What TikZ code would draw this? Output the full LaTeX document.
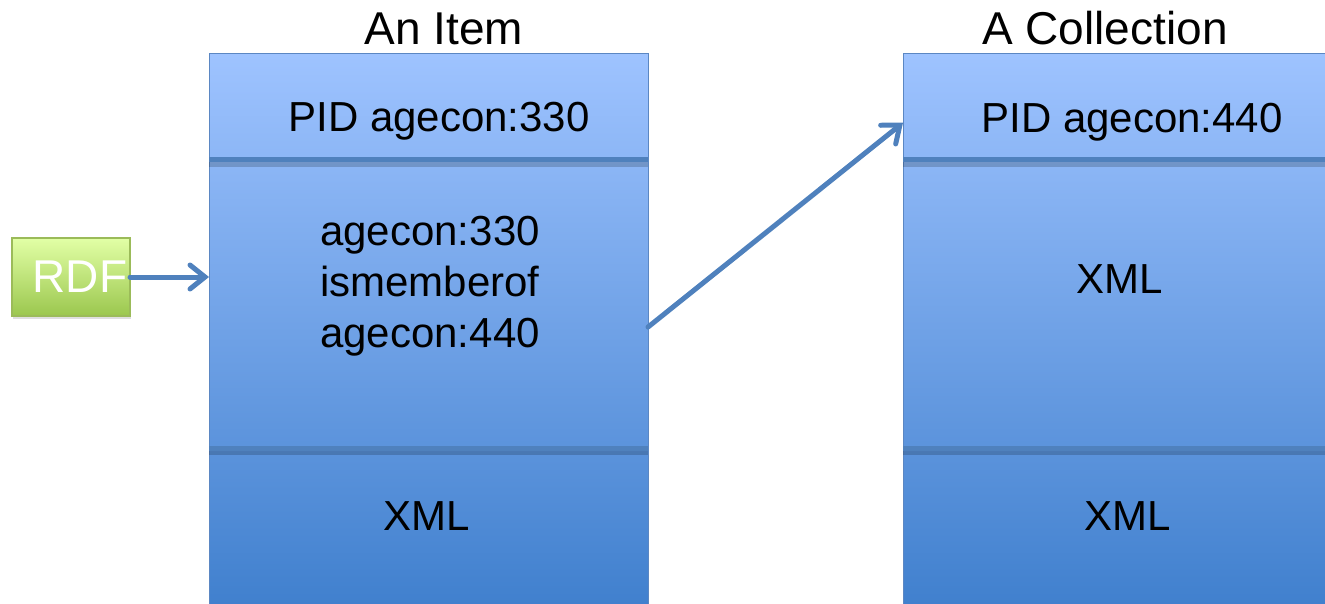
\documentclass[tikz,border=0pt]{standalone}
\usepackage{fontspec}
\setmainfont{Liberation Sans}
\usepackage{xcolor}
\usetikzlibrary{
    arrows.meta,
    shapes,
    positioning,
    shadows,
    calc
}
\definecolor{boxTop}{HTML}{9EC3FF}
\definecolor{boxMid}{HTML}{80ABEE}
\definecolor{boxBot}{HTML}{3F7FCD}
\definecolor{boxEdge}{HTML}{5B87C3}
\definecolor{linkBlue}{HTML}{4F81BD}
\definecolor{rdfTop}{HTML}{E2FFA6}
\definecolor{rdfBot}{HTML}{9BC74E}
\definecolor{rdfEdge}{HTML}{9BBB59}
\tikzset{%
    >={Straight Barb[length=15pt,width=24pt,line cap=round]},
    % Specifications for style of nodes:
    plain/.style = {inner sep=0pt, outer sep=0pt},
    column/.style = {
        plain, rectangle, draw=boxEdge, line width=1pt,
        top color=boxTop, middle color=boxMid, bottom color=boxBot,
        minimum height=560pt, anchor=north west
    },
    section/.style = {plain, rectangle},
    divider/.style = {
        draw=linkBlue, line width=5pt,
        preaction={draw=black, opacity=.18, line width=6pt,
                   transform canvas={yshift=-4pt}}
    },
    heading/.style = {plain, anchor=base, font=\fontsize{46}{55}\selectfont},
    txt/.style = {plain, align=center, font=\fontsize{42}{51}\selectfont},
    rdfbox/.style = {
        plain, rectangle, draw=rdfEdge, line width=1.5pt,
        top color=rdfTop, bottom color=rdfBot,
        minimum width=118pt, minimum height=78pt,
        text=white, font=\fontsize{46}{55}\selectfont,
        drop shadow={opacity=.25, shadow xshift=1pt, shadow yshift=-3pt}
    },
    link/.style = {->, draw=linkBlue, line width=5pt, line cap=round}
}
\begin{document}
\begin{tikzpicture}[x=1pt, y=-1pt]
\useasboundingbox (0,0) rectangle (1325,604);
% Columns and their sections
\node (item)     [column, minimum width=439pt] at (209,54) {};
\node (itemtop)  [section, minimum width=439pt, minimum height=106pt, below right=0pt of item.north west] {};
\node (itemmid)  [section, minimum width=439pt, minimum height=288pt, below=0pt of itemtop] {};
\node (itembot)  [section, minimum width=439pt, minimum height=166pt, below=0pt of itemmid] {};
\node (coll)     [column, minimum width=450pt] at (903,54) {};
\node (colltop)  [section, minimum width=450pt, minimum height=106pt, below right=0pt of coll.north west] {};
\node (collmid)  [section, minimum width=450pt, minimum height=288pt, below=0pt of colltop] {};
\node (collbot)  [section, minimum width=450pt, minimum height=166pt, below=0pt of collmid] {};
\draw[divider] (itemtop.south west) -- (itemtop.south east);
\draw[divider] (itemmid.south west) -- (itemmid.south east);
\draw[divider] (colltop.south west) -- (colltop.south east);
\draw[divider] (collmid.south west) -- (collmid.south east);
% Titles and texts
\node (itemtitle) [heading] at (444,45) {An Item};
\node (colltitle) [heading] at (1105,45) {A Collection};
\node (itempid)   [txt, anchor=base] at (439,132) {PID agecon:330};
\node (collpid)   [txt, anchor=base] at (1132,133) {PID agecon:440};
\node (itemrel)   [txt] at (430,286) {agecon:330\\ismemberof\\agecon:440};
\node (collxml)   [txt, anchor=base] at (1120,293) {XML};
\node (itemxml)   [txt, anchor=base] at (427,530) {XML};
\node (collxml2)  [txt, anchor=base] at (1128,530) {XML};
\node (rdf)       [rdfbox] at (71,277) {\hspace*{18pt}RDF};
% Specification of paths
\draw[link] (rdf.east) -- (rdf.east -| itemmid.west);
\draw[link] (itemmid.-6) -- (colltop.184);
\end{tikzpicture}
\end{document}
